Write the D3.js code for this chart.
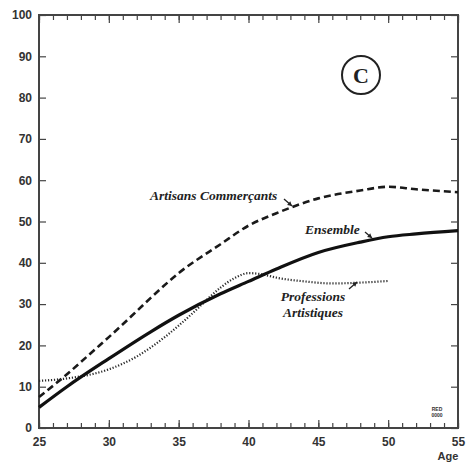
<!DOCTYPE html>
<html>
<head>
<meta charset="utf-8">
<script src="https://cdn.jsdelivr.net/npm/d3@7"></script>
<style>
  body { margin: 0; background: #fff; }
  .tick text { font-family: "Liberation Sans", Arial, sans-serif; font-weight: bold; font-size: 12px; fill: #333; }
  .lbl { font-family: "Liberation Serif", "Times New Roman", serif; font-style: italic; font-weight: bold; font-size: 13.5px; fill: #222; }
</style>
</head>
<body>
<svg width="473" height="466"></svg>
<script>
// age (x) and rate (y)
const ensembleAge = [25, 27, 30, 33, 35, 38, 40, 42, 45, 48, 50, 52, 55];
const ensembleVal = [5, 10, 16.8, 23.3, 27.3, 32.5, 35.5, 38.5, 42.5, 45, 46.3, 47, 47.8];

const artisansAge = [25, 27, 29, 30, 32, 33, 35, 38, 40, 42, 45, 48, 50, 52, 55];
const artisansVal = [7.5, 13, 19, 22, 28.3, 31.5, 37.5, 44.5, 49, 52, 55.6, 57.5, 58.4, 57.8, 57.1];

const artistiquesAge = [25, 27, 29, 30, 31, 32, 33, 34, 35, 36, 37, 38, 39, 40, 41, 42, 44, 46, 48, 50];
const artistiquesVal = [11.4, 12, 13.2, 14.2, 15.6, 17.3, 19.5, 22, 24.8, 27.8, 31, 34, 36.3, 37.5, 37.2, 36.4, 35.5, 35, 35.2, 35.6];

const xTicks = [25, 30, 35, 40, 45, 50, 55];
const yTicks = [0, 10, 20, 30, 40, 50, 60, 70, 80, 90, 100];

const svg = d3.select('svg');
const x0 = 39, x1 = 458, y0 = 428, y1 = 15;

const x = d3.scaleLinear().domain([25, 55]).range([x0, x1]);
const y = d3.scaleLinear().domain([0, 100]).range([y0, y1]);

function styleAxis(g) {
    g.select('.domain').remove();
    g.selectAll('.tick line').attr('stroke', '#444').attr('stroke-width', 1.2);
}

// minor ticks every year, bottom and top
svg.append('g').attr('transform', 'translate(0,' + y0 + ')')
    .call(d3.axisBottom(x).tickValues(d3.range(25, 56)).tickSize(-5).tickFormat(''))
    .call(styleAxis);
svg.append('g').attr('transform', 'translate(0,' + y1 + ')')
    .call(d3.axisTop(x).tickValues(d3.range(25, 56)).tickSize(-5).tickFormat(''))
    .call(styleAxis);
// major ticks with labels
svg.append('g').attr('transform', 'translate(0,' + y0 + ')')
    .call(d3.axisBottom(x).tickValues(xTicks).tickSize(-8).tickPadding(9).tickFormat(d3.format('d')))
    .call(styleAxis);
svg.append('g').attr('transform', 'translate(0,' + y1 + ')')
    .call(d3.axisTop(x).tickValues(xTicks).tickSize(-8).tickFormat(''))
    .call(styleAxis);
svg.append('g').attr('transform', 'translate(' + x0 + ',0)')
    .call(d3.axisLeft(y).tickValues(yTicks).tickSize(-7).tickPadding(7).tickFormat(d3.format('d')))
    .call(styleAxis);
svg.append('g').attr('transform', 'translate(' + x1 + ',0)')
    .call(d3.axisRight(y).tickValues(yTicks).tickSize(-7).tickFormat(''))
    .call(styleAxis);

// frame
svg.append('rect')
    .attr('x', x0).attr('y', y1)
    .attr('width', x1 - x0).attr('height', y0 - y1)
    .attr('fill', 'none').attr('stroke', '#444').attr('stroke-width', 2);

svg.append('text')
    .attr('x', 448).attr('y', 460)
    .attr('text-anchor', 'middle')
    .style('font-family', '"Liberation Sans", Arial, sans-serif')
    .style('font-weight', 'bold').style('font-size', '11px').style('fill', '#333')
    .text('Age');

const line = d3.line()
    .x(function (d) { return x(d[0]); })
    .y(function (d) { return y(d[1]); })
    .curve(d3.curveMonotoneX);

svg.append('path')
    .datum(d3.zip(artisansAge, artisansVal))
    .attr('d', line)
    .attr('fill', 'none').attr('stroke', '#1a1a1a')
    .attr('stroke-width', 2.6).attr('stroke-dasharray', '7,4');

svg.append('path')
    .datum(d3.zip(artistiquesAge, artistiquesVal))
    .attr('d', line)
    .attr('fill', 'none').attr('stroke', '#2a2a2a')
    .attr('stroke-width', 2.2).attr('stroke-dasharray', '1.2,1.8');

svg.append('path')
    .datum(d3.zip(ensembleAge, ensembleVal))
    .attr('d', line)
    .attr('fill', 'none').attr('stroke', '#111')
    .attr('stroke-width', 3.2);

// labels with small pointers
svg.append('text').attr('class', 'lbl').attr('x', 150).attr('y', 200).text('Artisans Commerçants');
svg.append('text').attr('class', 'lbl').attr('x', 305).attr('y', 234).text('Ensemble');
svg.append('text').attr('class', 'lbl').attr('x', 313).attr('y', 301).attr('text-anchor', 'middle').text('Professions');
svg.append('text').attr('class', 'lbl').attr('x', 313).attr('y', 317).attr('text-anchor', 'middle').text('Artistiques');

const pointers = [
    [284, 199, 292, 206],
    [365, 232, 372, 238],
    [349, 289, 357, 282]
];
pointers.forEach(function (p) {
    const ang = Math.atan2(p[3] - p[1], p[2] - p[0]);
    svg.append('line')
        .attr('x1', p[0]).attr('y1', p[1]).attr('x2', p[2]).attr('y2', p[3])
        .attr('stroke', '#222').attr('stroke-width', 1.3);
    const s = 5;
    const pts = [
        [p[2], p[3]],
        [p[2] - s * Math.cos(ang - 0.5), p[3] - s * Math.sin(ang - 0.5)],
        [p[2] - s * Math.cos(ang + 0.5), p[3] - s * Math.sin(ang + 0.5)]
    ];
    svg.append('polygon').attr('points', pts.map(function (q) { return q.join(','); }).join(' '))
        .attr('fill', '#222');
});

// panel marker
svg.append('circle').attr('cx', 361).attr('cy', 75).attr('r', 19)
    .attr('fill', 'none').attr('stroke', '#222').attr('stroke-width', 2);
svg.append('text').attr('x', 361).attr('y', 83).attr('text-anchor', 'middle')
    .style('font-family', '"Liberation Serif", serif').style('font-weight', 'bold')
    .style('font-size', '22px').style('fill', '#222').text('C');

// tiny stamp
svg.append('text').attr('x', 437).attr('y', 411).attr('text-anchor', 'middle')
    .style('font-family', '"Liberation Sans", sans-serif').style('font-weight', 'bold')
    .style('font-size', '5px').style('fill', '#333').text('RED');
svg.append('text').attr('x', 437).attr('y', 417).attr('text-anchor', 'middle')
    .style('font-family', '"Liberation Sans", sans-serif').style('font-weight', 'bold')
    .style('font-size', '5px').style('fill', '#333').text('0000');
</script>
</body>
</html>
